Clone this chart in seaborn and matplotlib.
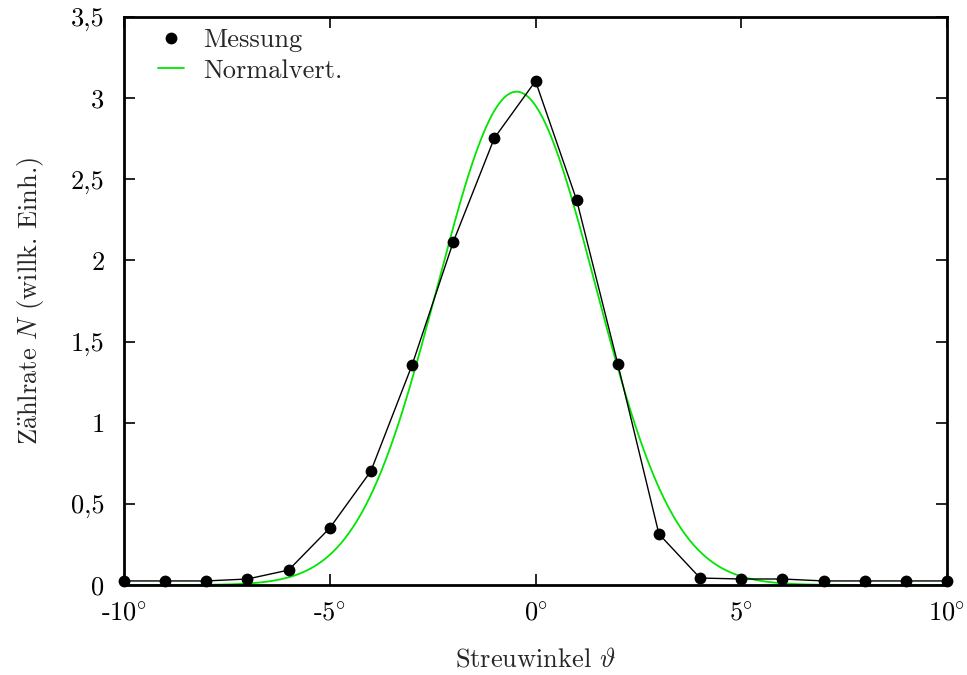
import numpy as np
import pandas as pd
import matplotlib
matplotlib.use("Agg")
import matplotlib.pyplot as plt
import seaborn as sns
from matplotlib.lines import Line2D

# Measured count rate vs. scattering angle
winkel = [-10, -9, -8, -7, -6, -5, -4, -3, -2, -1, 0, 1, 2, 3, 4, 5, 6, 7, 8, 9, 10]
zaehlrate = [0.025, 0.025, 0.025, 0.037, 0.092, 0.351, 0.702, 1.355, 2.113, 2.754,
             3.105, 2.372, 1.362, 0.314, 0.043, 0.037, 0.037, 0.025, 0.025, 0.025, 0.025]

# Fitted normal distribution parameters
fit_amplitude = 3.04
fit_mu = -0.46
fit_sigma = 1.92

x_ticks = [-10, -5, 0, 5, 10]
x_ticklabels = [r"-$10\!^\circ$", r"-$5\!^\circ$", r"$0\!^\circ$", r"$5\!^\circ$", r"$10\!^\circ$"]
y_ticks = [0, 0.5, 1, 1.5, 2, 2.5, 3, 3.5]
y_ticklabels = ["0", "0,5", "1", "1,5", "2", "2,5", "3", "3,5"]

sns.set_theme(style="ticks")
plt.rcParams["font.family"] = ["cmr10", "DejaVu Serif"]
plt.rcParams["mathtext.fontset"] = "cm"
plt.rcParams["axes.unicode_minus"] = False
plt.rcParams["axes.formatter.use_mathtext"] = True

FS = 19

mess = pd.DataFrame({"winkel": winkel, "zaehlrate": zaehlrate})
x_fit = np.linspace(-10, 10, 400)
fit = pd.DataFrame({
    "winkel": x_fit,
    "zaehlrate": fit_amplitude * np.exp(-(x_fit - fit_mu) ** 2 / (2 * fit_sigma ** 2)),
})

fig = plt.figure(figsize=(9.67, 6.75), dpi=100)
ax = fig.add_axes([124 / 967, 1 - 585 / 675, (947 - 124) / 967, (585 - 17) / 675])

green = "#00e600"
sns.lineplot(data=mess, x="winkel", y="zaehlrate", ax=ax, color="black", lw=1.0,
             marker="o", markersize=8.5, markeredgewidth=0, clip_on=False, zorder=3)
sns.lineplot(data=fit, x="winkel", y="zaehlrate", ax=ax, color=green, lw=1.3, zorder=2)

ax.set_xlim(-10, 10)
ax.set_ylim(0, 3.5)
ax.set_xticks(x_ticks)
ax.set_xticklabels(x_ticklabels)
ax.set_yticks(y_ticks)
ax.set_yticklabels(y_ticklabels)
ax.tick_params(direction="in", length=8, width=1.2, labelsize=FS, colors="black",
               top=True, right=True)
ax.tick_params(axis="x", pad=12)
ax.tick_params(axis="y", pad=14)
for side in ax.spines.values():
    side.set_linewidth(2.0)
    side.set_color("black")

ax.set_xlabel(r"Streuwinkel $\vartheta$", fontsize=FS, labelpad=16)
ax.set_ylabel(r"Z$\ddot{\mathrm{a}}$hlrate $N$ (willk. Einh.)", fontsize=FS, labelpad=18)

# legend: marker only for the measurement, line only for the fit
handles = [
    Line2D([], [], color="black", marker="o", markersize=8.5, markeredgewidth=0, lw=0),
    Line2D([], [], color=green, lw=1.3),
]
ax.legend(handles, ["Messung", "Normalvert."], loc="upper left",
          bbox_to_anchor=(0.019, 1.012), frameon=False, fontsize=FS,
          handlelength=1.0, handletextpad=0.7, labelspacing=0.25,
          borderaxespad=0.3)

fig.savefig("out.png", dpi=100)
